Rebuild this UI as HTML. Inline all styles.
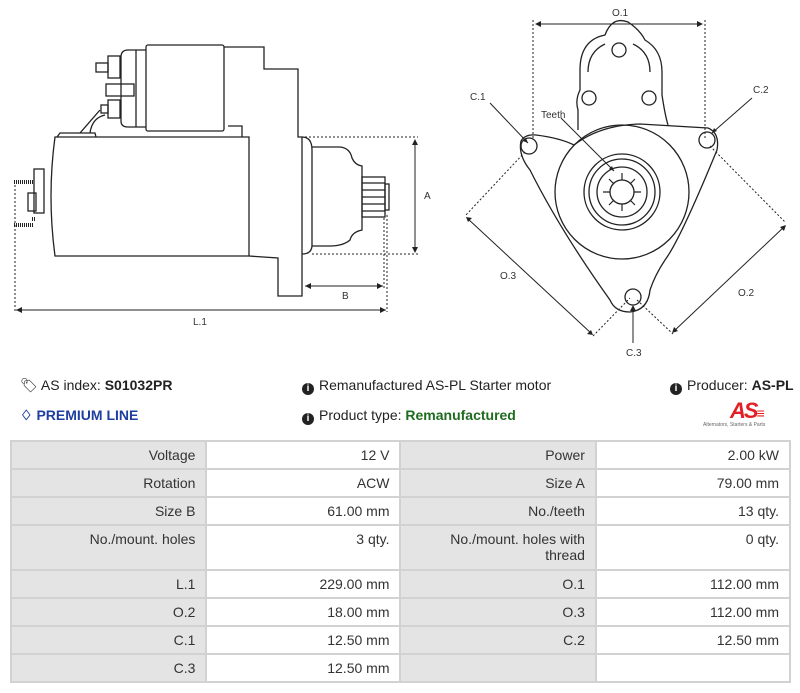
<!DOCTYPE html>
<html><head><meta charset="utf-8"><style>
body{margin:0;width:800px;height:693px;background:#fff;font-family:"Liberation Sans",Arial,sans-serif;position:relative;overflow:hidden;color:#222}
.t{position:absolute;font-size:14px;white-space:nowrap}
b{font-weight:bold}
table{position:absolute;left:10px;top:440px;width:781px;border-collapse:collapse;font-size:14px;color:#333}
td{border:2px solid #d2d2d2;text-align:right;padding:0 10px;height:26px;vertical-align:middle}
td.l{background:#e4e4e4;width:175px}
td.v{background:#fff;width:174px}
tr.tall td{height:38px;vertical-align:top;padding-top:5px}
.ic{display:inline-block;width:12px;height:12px;border-radius:50%;background:#222;color:#fff;font-size:10px;font-weight:bold;text-align:center;line-height:12px;vertical-align:-1px;margin-right:5px}
</style></head><body>
<svg width="800" height="360" style="position:absolute;left:0;top:0" fill="none" stroke="#222" stroke-width="1.3" font-family="Liberation Sans, sans-serif">
<path d="M55 137 L249 137 L249 256 L55 256 Q47 196 55 137Z" fill="#fff"/>
<path d="M57 137 L60 133 L95 133 L96 137"/>
<path d="M80 133 L100 110 M90 133 Q92 118 105 115"/>
<rect x="146" y="45" width="78" height="86" rx="2" fill="#fff"/>
<path d="M146 50 L128 50 Q121 50 121 57 L121 121 Q121 127 128 127 L146 127"/>
<path d="M136 50 L136 127"/>
<rect x="106" y="84" width="28" height="12"/>
<rect x="108" y="56" width="12" height="22"/><rect x="96" y="63" width="12" height="9"/>
<rect x="108" y="100" width="12" height="18"/><rect x="101" y="105" width="7" height="8"/>
<path d="M224 47 L264 47 L264 69 L298 69 L298 137 L302 137 L302 296 L278 296 L278 258 L249 256"/>
<path d="M228 126 L242 126 L242 137"/>
<path d="M302 137 Q312 137 312 150 L312 245 Q312 254 302 254"/>
<path d="M312 147 L340 147 Q350 148 352 158 Q355 165 362 166 L362 230 Q352 232 350 240 Q343 246 330 246 L312 246"/>
<rect x="362" y="177" width="23" height="40"/>
<path d="M362 183h23M362 190h23M362 197h23M362 204h23M362 211h23"/>
<rect x="385" y="184" width="4" height="26"/>
<rect x="34" y="169" width="10" height="44"/><rect x="28" y="193" width="8" height="18"/>
<path d="M14 182h20M14 225h20M32 219h3" stroke-width="4" stroke-dasharray="1 1"/>
<g stroke-dasharray="2 2" stroke-width="1">
<path d="M305 137H418M312 254H418M15 185V312M387 215V312M384 218V290"/>
</g>
<g stroke-width="1">
<path d="M415 141V251M305 286H383M16 310H386"/>
</g>
<g fill="#222" stroke="none">
<path d="M415 139l-3 6h6z M415 253l-3 -6h6z M305 286l6 -3v6z M383 286l-6 -3v6z M16 310l6 -3v6z M386 310l-6 -3v6z"/>
</g>
<g fill="#333" stroke="none" font-size="10">
<text x="424" y="199">A</text><text x="342" y="299">B</text><text x="193" y="325">L.1</text>
</g>
<path d="M578 130 L578 110 Q575 100 580 90 L580 70 Q580 40 605 35 Q612 16 628 22 Q640 30 645 40 Q662 50 662 72 L662 95 Q665 115 668 125" />
<path d="M605 44 Q588 52 588 72 M650 72 Q650 52 633 44"/>
<circle cx="619" cy="50" r="7"/><circle cx="589" cy="98" r="7"/><circle cx="649" cy="98" r="7"/>
<path d="M521 141 Q525 134 536 135 Q560 138 574 145 Q600 125 640 124 L708 128 Q720 133 717 150 Q680 240 665 260 Q655 275 650 290 Q648 310 630 312 Q615 312 610 300 Q560 230 530 170 Q518 155 521 141Z" fill="#fff"/>
<circle cx="529" cy="146" r="8"/><circle cx="707" cy="140" r="8"/><circle cx="633" cy="297" r="8"/>
<circle cx="622" cy="192" r="67"/>
<circle cx="622" cy="192" r="38"/><circle cx="622" cy="192" r="33"/><circle cx="622" cy="192" r="25"/>
<circle cx="622" cy="192" r="12"/>
<g stroke-width="1.2">
<path d="M622 173v7M622 204v7M603 192h7M634 192h7M609 179l5 5M635 179l-5 5M609 205l5 -5M635 205l-5 -5"/>
</g>
<g stroke-dasharray="2 2" stroke-width="1">
<path d="M533 20V140M705 20V140M525 152L465 216M593 336L630 298M710 146L785 222M637 300L673 334"/>
</g>
<g stroke-width="1">
<path d="M536 24H702M467 218L592 334M785 226L673 332M490 103L528 143M752 98L712 133M561 118L614 171M633 310V343"/>
</g>
<g fill="#222" stroke="none">
<path d="M535 24l6 -3v6z M703 24l-6 -3v6z M466 217l6 1l-4 4z M593 335l-6 -1l4 -4z M786 225l-2 6l-4 -4z M672 333l2 -6l4 4z M528 143l-5 -2l3 -3z M712 133l2 -5l3 3z M614 171l-5 -2l3 -3z M633 305l-3 6h6z"/>
</g>
<g fill="#333" stroke="none" font-size="10">
<text x="612" y="16">O.1</text><text x="470" y="100">C.1</text><text x="753" y="93">C.2</text>
<text x="541" y="118">Teeth</text><text x="626" y="356">C.3</text>
<text x="500" y="279">O.3</text><text x="738" y="296">O.2</text>
</g>
</svg>

<div class="t" style="left:20px;top:377px">&#x1F3F7;&#xFE0E; AS index: <b>S01032PR</b></div>
<div class="t" style="left:20px;top:407px;color:#1f3fa0;font-weight:bold">&#9826; PREMIUM LINE</div>
<div class="t" style="left:302px;top:377px"><span class="ic">i</span>Remanufactured AS-PL Starter motor</div>
<div class="t" style="left:302px;top:407px"><span class="ic">i</span>Product type: <b style="color:#1f6b1f">Remanufactured</b></div>
<div class="t" style="left:670px;top:377px"><span class="ic">i</span>Producer: <b>AS-PL</b></div>
<div style="position:absolute;left:730px;top:398px;color:#e31e24;font-weight:bold;font-style:italic;font-size:22px;letter-spacing:-2px">AS<span style="font-size:14px">&#8801;</span></div>
<div style="position:absolute;left:703px;top:422px;font-size:5px;color:#666">Alternators, Starters &amp; Parts</div>

<table>
<tr><td class="l">Voltage</td><td class="v">12 V</td><td class="l">Power</td><td class="v">2.00 kW</td></tr>
<tr><td class="l">Rotation</td><td class="v">ACW</td><td class="l">Size A</td><td class="v">79.00 mm</td></tr>
<tr><td class="l">Size B</td><td class="v">61.00 mm</td><td class="l">No./teeth</td><td class="v">13 qty.</td></tr>
<tr class="tall"><td class="l">No./mount. holes</td><td class="v">3 qty.</td><td class="l">No./mount. holes with thread</td><td class="v">0 qty.</td></tr>
<tr><td class="l">L.1</td><td class="v">229.00 mm</td><td class="l">O.1</td><td class="v">112.00 mm</td></tr>
<tr><td class="l">O.2</td><td class="v">18.00 mm</td><td class="l">O.3</td><td class="v">112.00 mm</td></tr>
<tr><td class="l">C.1</td><td class="v">12.50 mm</td><td class="l">C.2</td><td class="v">12.50 mm</td></tr>
<tr><td class="l">C.3</td><td class="v">12.50 mm</td><td class="l"></td><td class="v"></td></tr>
</table>
</body></html>
